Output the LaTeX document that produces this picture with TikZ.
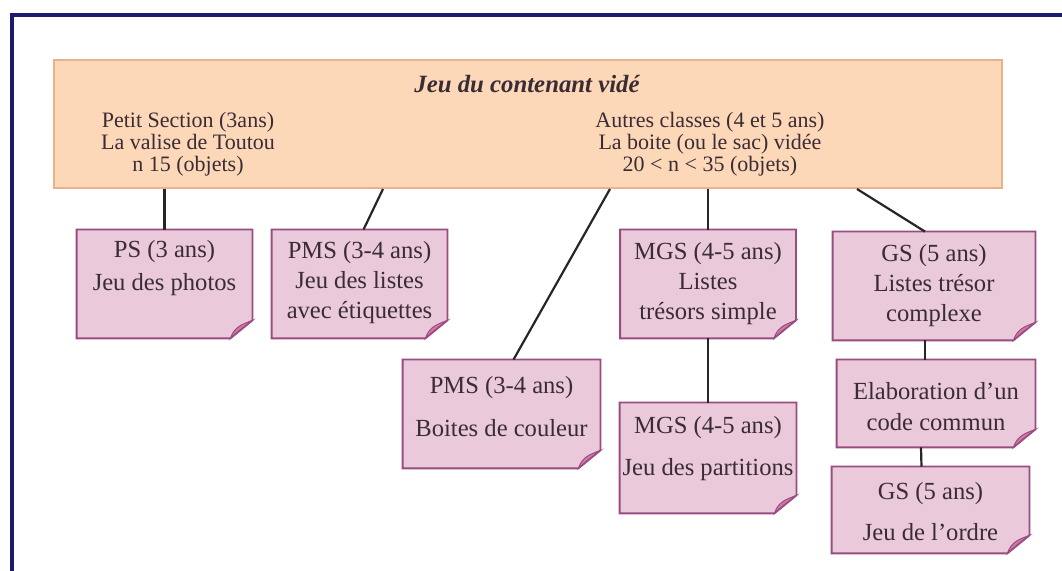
\documentclass[tikz,border=0pt]{standalone}
\usepackage{fontspec}
\setmainfont{Liberation Serif}
\usepackage{xcolor}
\usetikzlibrary{positioning,calc,backgrounds}
\definecolor{frameblue}{HTML}{1C1C6E}
\definecolor{headfill}{HTML}{FCD8B9}
\definecolor{headline}{HTML}{EDB28C}
\definecolor{notefill}{HTML}{E9C9DA}
\definecolor{noteline}{HTML}{9A4C80}
\definecolor{foldpink}{HTML}{D27AA6}
\definecolor{ink}{HTML}{3A2C34}
\tikzset{
  headbox/.style={
    draw=headline, fill=headfill, line width=1pt,
    minimum width=474pt, minimum height=64pt, inner sep=0pt
  },
  headtext/.style={
    align=center, text=ink, font=\fontsize{11}{11}\selectfont, inner sep=0pt
  },
  notecard/.style={
    draw=none, fill=none, inner sep=0pt,
    minimum width=87.5pt, minimum height=54pt
  },
  cardtext/.style={
    align=center, text=ink, inner sep=0pt,
    font=\fontsize{12.3}{15}\selectfont
  },
  link/.style={draw=black!85, line width=1.1pt}
}
\begin{document}
\begin{tikzpicture}[x=0.5pt,y=-0.5pt]
  \useasboundingbox (0,0) rectangle (1062,571);
  % page frame
  \draw[frameblue, line width=1.6pt] (1090,15) -- (12,15) -- (12,590);

  % header
  \node[headbox] (head) at (527.5,124) {};
  \node[font=\fontsize{12.4}{13}\selectfont\bfseries\itshape, text=ink] (title) at (527,84) {Jeu du contenant vidé};
  \node[headtext] (left) at (188,144) {Petit Section (3ans)\\La valise de Toutou\\n 15 (objets)};
  \node[headtext] (right) at (710,144) {Autres classes (4 et 5 ans)\\La boite (ou le sac) vidée\\20 < n < 35 (objets)};

  % cards
  \node[notecard] (ps) at (164.5,284) {};
  \node[notecard] (pmsa) at (359.5,284) {};
  \node[notecard, minimum width=98.5pt] (pmsb) at (501.5,414) {};
  \node[notecard] (mgsa) at (708,284) {};
  \node[notecard, minimum width=88pt, minimum height=55pt] (mgsb) at (708,458) {};
  \node[notecard, minimum width=101pt] (gsa) at (934,286) {};
  \node[notecard, minimum width=99pt, minimum height=43.5pt] (code) at (936,403.5) {};
  \node[notecard, minimum width=98.5pt, minimum height=43pt] (gsb) at (930.5,510) {};

  % card texts
  \node[cardtext] (ps-t) at ([yshift=7.75pt]ps) {PS (3 ans)\\[1.5pt]Jeu des photos};
  \node[cardtext] (pmsa-t) at ([yshift=0.75pt]pmsa) {PMS (3-4 ans)\\Jeu des listes\\avec étiquettes};
  \node[cardtext] (pmsb-t) at ([yshift=3.75pt]pmsb) {PMS (3-4 ans)\\[6.5pt]Boites de couleur};
  \node[cardtext] (mgsa-t) at (mgsa) {MGS (4-5 ans)\\Listes\\trésors simple};
  \node[cardtext] (mgsb-t) at ([yshift=4.5pt]mgsb) {MGS (4-5 ans)\\[6pt]Jeu des partitions};
  \node[cardtext] (gsa-t) at (gsa) {GS (5 ans)\\Listes trésor\\complexe};
  \node[cardtext] (code-t) at ([yshift=-1.5pt]code) {Elaboration d'un\\[0.5pt]code commun};
  \node[cardtext] (gsb-t) at ([yshift=-0.75pt]gsb) {GS (5 ans)\\[5.5pt]Jeu de l'ordre};

  % card outlines with folded corner
  \begin{scope}[on background layer]
  \foreach \n in {ps,pmsa,pmsb,mgsa,mgsb,gsa,code,gsb}{
    \filldraw[fill=notefill, draw=noteline, line width=0.9pt] (\n.north west) -- (\n.north east)
      -- ([yshift=9pt]\n.south east) -- ([xshift=-11pt]\n.south east) -- (\n.south west) -- cycle;
    \filldraw[fill=foldpink, draw=noteline, line width=0.5pt]
      ([yshift=9pt]\n.south east) .. controls ([xshift=-5pt,yshift=7pt]\n.south east) and ([xshift=-9pt,yshift=6pt]\n.south east) .. ([xshift=-11pt]\n.south east)
      .. controls ([xshift=-8pt,yshift=3pt]\n.south east) and ([xshift=-4pt,yshift=6pt]\n.south east) .. cycle;
  }
  \end{scope}

  % connectors
  \draw[link] (ps.north |- head.south) -- (ps.north);
  \draw[link] (head.south -| 383,0) -- ([xshift=2pt]pmsa.north);
  \draw[link] (head.south -| 610,0) -- ([xshift=6pt]pmsb.north);
  \draw[link] (head.south -| mgsa.north) -- (mgsa.north);
  \draw[link] (mgsa.south) -- (mgsb.north);
  \draw[link] (head.south -| 857,0) -- ([xshift=-4.5pt]gsa.north);
  \draw[link] ([xshift=-4.5pt]gsa.south) -- ([xshift=-5.5pt]code.north);
  \draw[link] ([xshift=-7.5pt]code.south) -- ([xshift=-4.5pt]gsb.north);
\end{tikzpicture}
\end{document}
